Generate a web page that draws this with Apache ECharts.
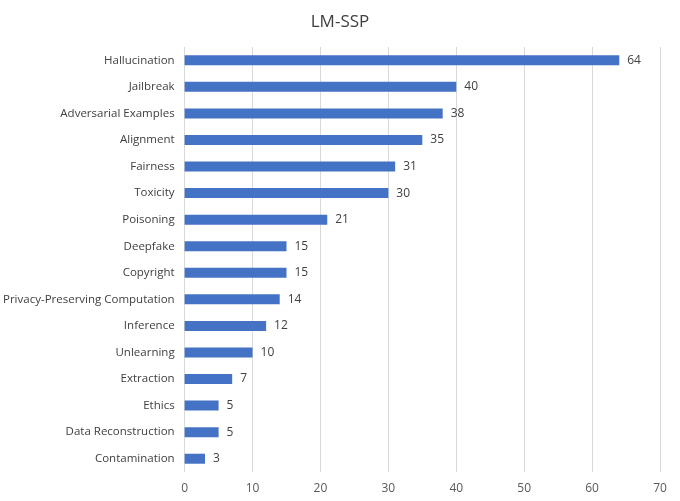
<!DOCTYPE html>
<html>
<head>
<meta charset="utf-8">
<script src="https://cdn.jsdelivr.net/npm/echarts@6/dist/echarts.min.js"></script>
<style>
  html, body { margin: 0; padding: 0; background: #fff; }
  #chart { width: 680px; height: 501px; }
</style>
</head>
<body>
<div id="chart"></div>
<script>
// Categories listed bottom to top (ECharts category y axis starts at the bottom)
var categories = [
  "Contamination", "Data Reconstruction", "Ethics", "Extraction", "Unlearning",
  "Inference", "Privacy-Preserving Computation", "Copyright", "Deepfake",
  "Poisoning", "Toxicity", "Fairness", "Alignment", "Adversarial Examples",
  "Jailbreak", "Hallucination"
];
var counts = [3, 5, 5, 7, 10, 12, 14, 15, 15, 21, 30, 31, 35, 38, 40, 64];
var xTicks = [0, 10, 20, 30, 40, 50, 60, 70];

var font = "Open Sans";
var myChart = echarts.init(document.getElementById("chart"));

var option = {
  animation: false,
  title: {
    text: "LM-SSP",
    left: "center",
    top: 9,
    textStyle: { fontFamily: font, fontSize: 17, fontWeight: "normal", color: "#404040" }
  },
  grid: { left: 183, right: 20, top: 47, bottom: 29 },
  xAxis: {
    type: "value",
    min: xTicks[0],
    max: xTicks[xTicks.length - 1],
    interval: 10,
    axisLine: { show: false },
    axisTick: { show: false },
    axisLabel: { fontFamily: font, fontSize: 12, color: "#595959", margin: 11 },
    splitLine: { show: true, lineStyle: { color: "#d9d9d9", width: 1 } }
  },
  yAxis: {
    type: "category",
    data: categories,
    axisLine: { show: false },
    axisTick: { show: false },
    axisLabel: { fontFamily: font, fontSize: 11.5, color: "#404040", margin: 10 }
  },
  series: [{
    type: "bar",
    data: counts,
    barWidth: 10,
    itemStyle: { color: "#4472c4" },
    label: {
      show: true,
      position: "right",
      distance: 8,
      fontFamily: font,
      fontSize: 12,
      color: "#404040"
    }
  }]
};

myChart.setOption(option);
</script>
</body>
</html>
